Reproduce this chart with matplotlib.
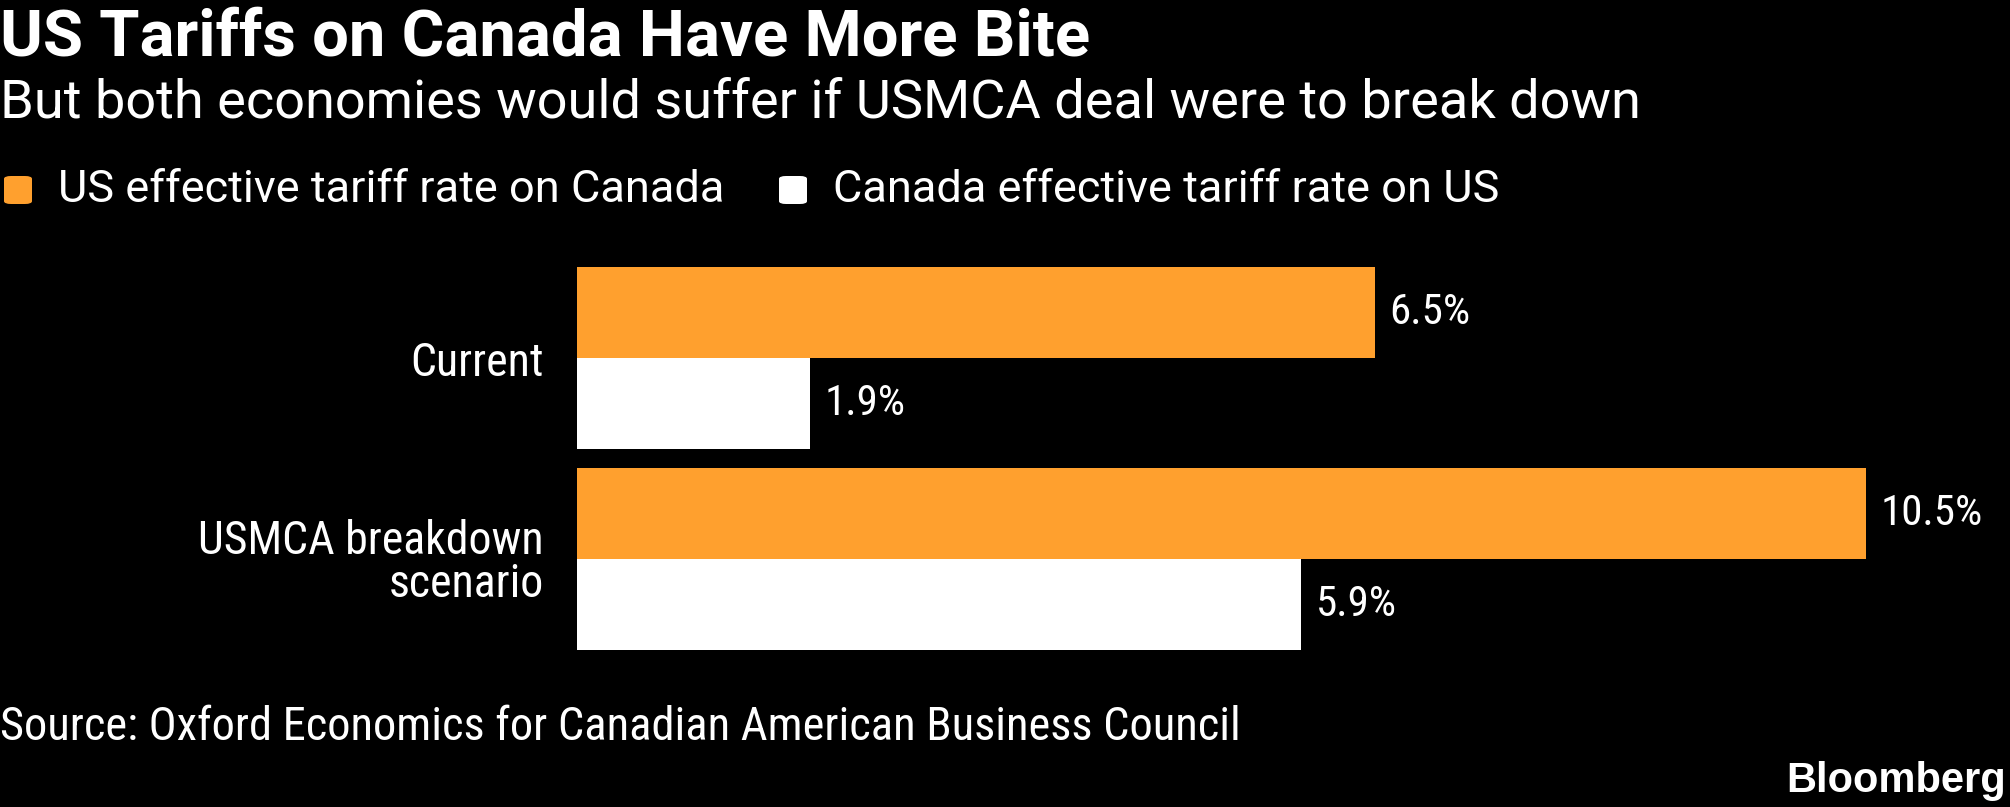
import matplotlib.pyplot as plt
from matplotlib.patches import FancyBboxPatch
import numpy as np

# chart data
categories = ['Current', 'USMCA breakdown\nscenario']
us_on_canada = [6.5, 10.5]
canada_on_us = [1.9, 5.9]
series_names = ['US effective tariff rate on Canada', 'Canada effective tariff rate on US']

orange = '#FFA02E'
white = '#FFFFFF'
narrow = ['Roboto Condensed', 'DejaVu Sans']
regular = ['Roboto', 'DejaVu Sans']

W, H = 2010, 807
fig = plt.figure(figsize=(W / 100, H / 100), dpi=100, facecolor='black')

# axes placed in pixel terms: bars span x 577..1866, y 267..650
ax = fig.add_axes([577 / W, 1 - 650 / H, (1866 - 577) / W, (650 - 267) / H])
ax.set_facecolor('black')

h = 0.455
y = np.arange(len(categories))
ax.barh(y - h / 2, us_on_canada, height=h, color=orange)
ax.barh(y + h / 2, canada_on_us, height=h, color=white)
ax.set_xlim(0, max(us_on_canada))
ax.set_ylim(len(categories) - 1 + h, -h)

for i in range(len(categories)):
    ax.text(us_on_canada[i] + 0.12, y[i] - h / 2, f'{us_on_canada[i]:.1f}%',
            color='white', va='center', ha='left', fontsize=31, family=narrow,
            fontstretch='condensed', clip_on=False)
    ax.text(canada_on_us[i] + 0.12, y[i] + h / 2, f'{canada_on_us[i]:.1f}%',
            color='white', va='center', ha='left', fontsize=31, family=narrow,
            fontstretch='condensed', clip_on=False)

ax.set_yticks(y)
ax.set_yticklabels(categories, color='white', fontsize=33, family=narrow,
                   fontstretch='condensed', linespacing=0.95)
ax.tick_params(axis='y', length=0, pad=24)
ax.set_xticks([])
for s in ax.spines.values():
    s.set_visible(False)

# titles
fig.text(0, 1 - 56 / H, 'US Tariffs on Canada Have More Bite', color='white',
         fontsize=47, fontweight='bold', family=regular, va='baseline', ha='left')
fig.text(0, 1 - 118 / H, 'But both economies would suffer if USMCA deal were to break down',
         color='white', fontsize=39, family=regular, va='baseline', ha='left')

# legend drawn by hand
leg_y = 1 - 190 / H
for x0, x_txt, col, name in [(4, 58, orange, series_names[0]), (779, 833, white, series_names[1])]:
    box = FancyBboxPatch((x0 / W, leg_y - 14 / H), 28 / W, 28 / H,
                         boxstyle='round,pad=0,rounding_size=0.0035', transform=fig.transFigure,
                         facecolor=col, edgecolor='none')
    fig.patches.append(box)
    fig.text(x_txt / W, leg_y, name, color='white', fontsize=32.5, family=regular,
             va='center', ha='left')

fig.text(0, 1 - 727 / H, 'Source: Oxford Economics for Canadian American Business Council',
         color='white', fontsize=33.5, family=narrow, fontstretch='condensed',
         va='center', ha='left')
fig.text(2006 / W, 1 - 792 / H, 'Bloomberg', color='white', fontsize=30,
         fontweight='bold', family=['Liberation Sans', 'DejaVu Sans'], va='baseline', ha='right')

fig.savefig('out.png', dpi=100, facecolor='black')
